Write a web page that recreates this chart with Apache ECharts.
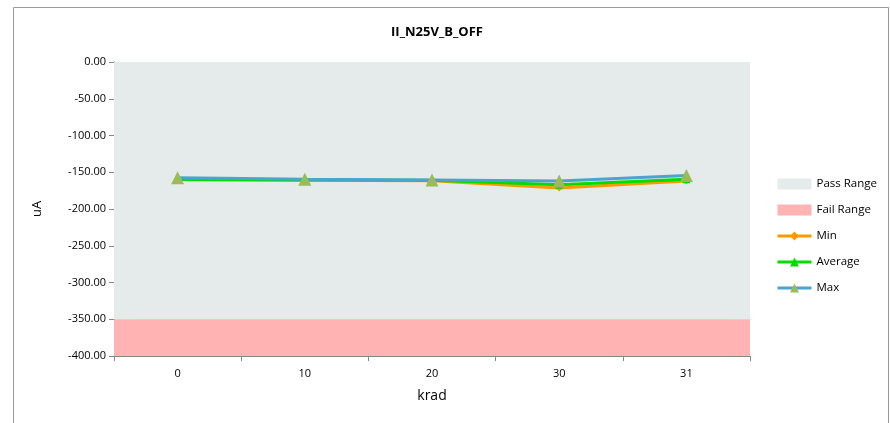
<!DOCTYPE html>
<html><head><meta charset="utf-8">
<script src="https://cdn.jsdelivr.net/npm/echarts@6/dist/echarts.min.js"></script>
<style>html,body{margin:0;padding:0;background:#fff}#c{width:890px;height:423px}</style>
</head><body><div id="c"></div>
<script>
const categories = ['0', '10', '20', '30', '31'];
const minVals = [-160, -161, -161.5, -171.5, -162];
const avgVals = [-160, -160.5, -161, -167, -159.5];
const maxVals = [-157.5, -159.5, -160.5, -162, -154.5];
const passRange = [0, -350];
const failRange = [-350, -400];
const yTicks = { min: -400, max: 0, interval: 50 };

const FONT = '"Open Sans", "Noto Sans", sans-serif';
const chart = echarts.init(document.getElementById('c'));
chart.setOption({
  animation: false,
  textStyle: { fontFamily: FONT },
  title: { text: 'II_N25V_B_OFF', left: 432, top: 21, textAlign: 'center',
    textStyle: { fontSize: 13, fontWeight: 'bold', color: '#000', fontFamily: FONT } },
  graphic: [{ type: 'rect', shape: { x: 13.5, y: 7.5, width: 875, height: 430 },
    style: { fill: 'none', stroke: '#9a9a9a', lineWidth: 1 }, silent: true }],
  grid: { left: 114, top: 62, right: 140, bottom: 67 },
  legend: {
    orient: 'vertical', left: 771, top: 173, itemGap: 14, itemWidth: 34, itemHeight: 11,
    lineStyle: { width: 3 },
    textStyle: { fontSize: 11.5, color: '#000', fontFamily: FONT },
    data: [
      { name: 'Pass Range', icon: 'rect' },
      { name: 'Fail Range', icon: 'rect' },
      'Min', 'Average', 'Max'
    ]
  },
  xAxis: {
    type: 'category', data: categories, boundaryGap: true,
    name: 'krad', nameLocation: 'middle', nameGap: 33,
    nameTextStyle: { fontSize: 14, color: '#000', fontFamily: FONT },
    axisLine: { onZero: false, lineStyle: { color: '#888' } },
    axisTick: { show: true, length: 5, lineStyle: { color: '#888' } },
    axisLabel: { color: '#000', fontSize: 11, margin: 12 }
  },
  yAxis: {
    type: 'value', min: yTicks.min, max: yTicks.max, interval: yTicks.interval,
    name: 'uA', nameLocation: 'middle', nameGap: 70,
    nameTextStyle: { fontSize: 13, color: '#000', fontFamily: FONT },
    axisLine: { show: true, lineStyle: { color: '#888' } },
    axisTick: { show: true, length: 5, lineStyle: { color: '#888' } },
    splitLine: { show: false },
    axisLabel: { color: '#000', fontSize: 11, formatter: v => v.toFixed(2) }
  },
  series: [
    { name: 'Pass Range', type: 'line', data: [], itemStyle: { color: '#E4EBEA' },
      markArea: { silent: true, itemStyle: { color: '#E4EBEA' },
        data: [[{ yAxis: passRange[0] }, { yAxis: passRange[1] }]] } },
    { name: 'Fail Range', type: 'line', data: [], itemStyle: { color: '#FFB3B3' },
      markArea: { silent: true, itemStyle: { color: '#FFB3B3' },
        data: [[{ yAxis: failRange[0] }, { yAxis: failRange[1] }]] } },
    { name: 'Min', type: 'line', data: minVals, symbol: 'diamond', symbolSize: 7,
      itemStyle: { color: '#FF9900' }, lineStyle: { color: '#FF9900', width: 3 } },
    { name: 'Average', type: 'line', data: avgVals, symbol: 'triangle', symbolSize: 8,
      itemStyle: { color: '#00DD00' }, lineStyle: { color: '#00DD00', width: 3 } },
    { name: 'Max', type: 'line', data: maxVals, symbol: 'triangle', symbolSize: 13,
      itemStyle: { color: '#9BBB59' }, lineStyle: { color: '#4BA3CF', width: 3 } }
  ]
});
</script></body></html>
